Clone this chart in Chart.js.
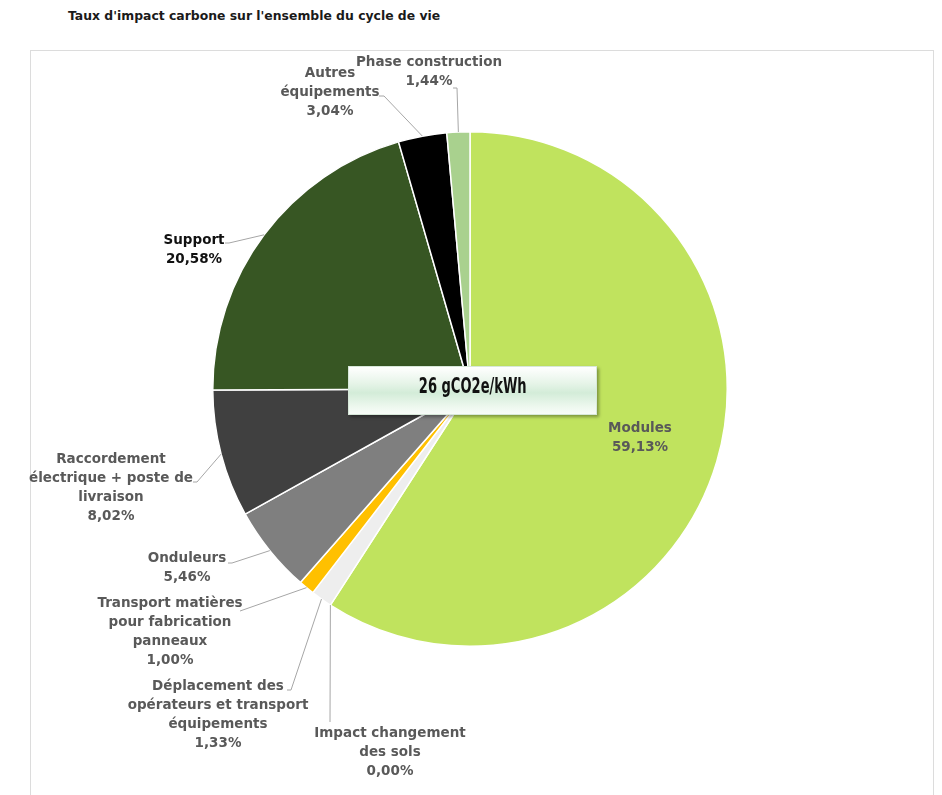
<!DOCTYPE html>
<html>
<head>
<meta charset="utf-8">
<script src="https://cdn.jsdelivr.net/npm/chart.js@4.4.1/dist/chart.umd.min.js"></script>
<style>
  html, body { margin: 0; padding: 0; background: #fff; }
  body { width: 942px; height: 795px; position: relative; overflow: hidden; font-family: "DejaVu Sans", sans-serif; }
  .title { position: absolute; left: 68px; top: 8px; font-size: 12.4px; font-weight: bold; color: #1a1a1a; white-space: nowrap; }
  .frame { position: absolute; left: 30px; top: 50px; width: 904px; height: 800px; border: 1.5px solid #dcdcdc; box-sizing: border-box; }
  #chart { position: absolute; left: 0; top: 0; }
  .total { position: absolute; left: 348px; top: 366px; width: 249px; height: 49px; box-sizing: border-box;
           border: 1px solid #d7e8d9;
           background: linear-gradient(to bottom, #ffffff 0%, #e6f4e8 35%, #d3ecd8 55%, #eef8ef 85%, #f8fcf8 100%);
           box-shadow: 2px 2px 3px rgba(0,0,0,0.35);
           text-align: center; line-height: 38px; }
  .total span { display: inline-block; transform: scaleX(0.66); transform-origin: center;
                font-family: "DejaVu Sans Condensed", "DejaVu Sans", sans-serif; font-weight: bold; font-size: 22px; color: #111; }
</style>
</head>
<body>
<div class="title">Taux d'impact carbone sur l'ensemble du cycle de vie</div>
<div class="frame"></div>
<canvas id="chart" width="942" height="795"></canvas>
<div class="total"><span>26 gCO2e/kWh</span></div>
<script>
// Slices, clockwise from 12 o'clock
const categories = [
  'Modules',
  'Impact changement\ndes sols',
  'Déplacement des\nopérateurs et transport\néquipements',
  'Transport matières\npour fabrication\npanneaux',
  'Onduleurs',
  'Raccordement\nélectrique + poste de\nlivraison',
  'Support',
  'Autres\néquipements',
  'Phase construction'
];
const shares = [59.13, 0.00, 1.33, 1.00, 5.46, 8.02, 20.58, 3.04, 1.44];
const sliceColors = ['#c0e35e', '#dcdcdc', '#eeeeee', '#ffc000', '#7f7f7f', '#404040', '#375623', '#000000', '#a9d18e'];

// where each data label sits (centre of its first line) and the bend points of its leader line
const labelLayout = [
  { x: 640, y: 428, color: '#595959', pts: [] },
  { x: 390, y: 733, color: '#595959', pts: [[330, 722]] },
  { x: 218, y: 686, color: '#595959', pts: [[291, 690], [287, 690]] },
  { x: 170, y: 603, color: '#595959', pts: [[240, 611]] },
  { x: 187, y: 558, color: '#595959', pts: [[232, 563], [228, 563]] },
  { x: 111, y: 459, color: '#595959', pts: [[197, 482], [193, 482]] },
  { x: 194, y: 240, color: '#111111', pts: [[229, 243], [225, 243]] },
  { x: 330, y: 73, color: '#595959', pts: [[384, 96], [379, 96]] },
  { x: 429, y: 62, color: '#595959', pts: [[457, 88], [453, 88]] }
];

const fmtPct = v => v.toFixed(2).replace('.', ',') + '%';

const calloutPlugin = {
  id: 'callouts',
  afterDatasetsDraw(chart) {
    const ctx = chart.ctx;
    const meta = chart.getDatasetMeta(0);
    ctx.save();
    meta.data.forEach((arc, i) => {
      const lay = labelLayout[i];
      const p = arc.getProps(['x', 'y', 'startAngle', 'endAngle', 'outerRadius'], true);
      const mid = (p.startAngle + p.endAngle) / 2;
      if (lay.pts.length) {
        ctx.beginPath();
        ctx.moveTo(p.x + Math.cos(mid) * p.outerRadius, p.y + Math.sin(mid) * p.outerRadius);
        lay.pts.forEach(pt => ctx.lineTo(pt[0], pt[1]));
        ctx.strokeStyle = '#a6a6a6';
        ctx.lineWidth = 1;
        ctx.stroke();
      }
      const lines = categories[i].split('\n').concat(fmtPct(shares[i]));
      ctx.font = 'bold 13.5px "DejaVu Sans", sans-serif';
      ctx.fillStyle = lay.color;
      ctx.textAlign = 'center';
      ctx.textBaseline = 'middle';
      lines.forEach((t, k) => ctx.fillText(t, lay.x, lay.y + k * 19.3));
    });
    ctx.restore();
  }
};

new Chart(document.getElementById('chart'), {
  type: 'pie',
  data: {
    labels: categories.map(c => c.replace(/\n/g, ' ')),
    datasets: [{
      data: shares,
      backgroundColor: sliceColors,
      borderColor: '#ffffff',
      borderWidth: 1.5
    }]
  },
  options: {
    responsive: false,
    animation: false,
    layout: { padding: { top: 131, bottom: 148, left: 212, right: 214 } },
    plugins: {
      legend: { display: false },
      tooltip: { enabled: false },
      title: { display: false }
    }
  },
  plugins: [calloutPlugin]
});
</script>
</body>
</html>
